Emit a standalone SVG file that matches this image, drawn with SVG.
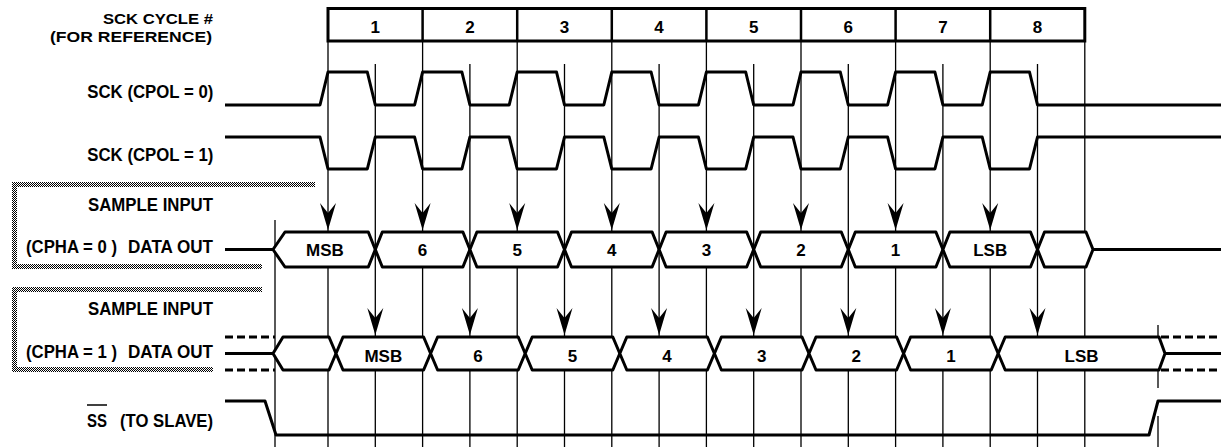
<svg xmlns="http://www.w3.org/2000/svg" xmlns:xlink="http://www.w3.org/1999/xlink" width="1221" height="447" viewBox="0 0 1221 447">
<style>
text{font-family:"Liberation Sans",Arial,sans-serif;font-weight:bold;font-size:17px;fill:#000}
.lbl{text-anchor:start;font-size:18.5px}
.top{text-anchor:start;font-size:15.5px}
.c{text-anchor:middle}
.grid{stroke:#000;stroke-width:1.3;fill:none}
.wave{stroke:#000;stroke-width:3;fill:none;stroke-linejoin:round}
.hex{stroke:#000;stroke-width:3;fill:#fff;stroke-linejoin:round}
.dash{stroke:#000;stroke-width:3;stroke-dasharray:8 4;fill:none}
.box{stroke:#000;stroke-width:3;fill:#fff}
.div{stroke:#000;stroke-width:2.5}
</style>
<defs>
<pattern id="hatch" width="2" height="2" patternUnits="userSpaceOnUse">
<rect width="2" height="2" fill="#fff"/>
<rect width="1" height="1" fill="#000"/>
<rect x="1" y="1" width="1" height="1" fill="#000"/>
</pattern>
<path id="arr" d="M0,0 L-8,-27 L0,-17 L8,-27 Z" fill="#000"/>
</defs>

<g id="hatch-boxes" fill="url(#hatch)">
<rect x="12" y="182" width="303" height="5"/>
<rect x="12" y="182" width="5" height="87"/>
<rect x="12" y="264" width="250" height="5"/>
<rect x="12" y="287" width="250" height="5"/>
<rect x="12" y="287" width="5" height="85"/>
<rect x="12" y="367" width="201" height="5"/>
</g>

<g id="connectors">
<g id="grid-lines" class="grid">
<path d="M328,41V447 M422.6,41V447 M517.2,41V447 M611.8,41V447 M706.4,41V447 M801,41V447 M895.6,41V447 M990.2,41V447 M1084.8,41V447"/>
<path d="M375.3,64V447 M469.9,64V447 M564.5,64V447 M659.1,64V447 M753.7,64V447 M848.3,64V447 M942.9,64V447 M1037.5,64V447"/>
<path d="M275,220V447 M1158,325V388 M1158,416V447"/>
</g>
<g id="sample-arrows-cpha0">
<use xlink:href="#arr" x="328" y="230"/>
<use xlink:href="#arr" x="422.6" y="230"/>
<use xlink:href="#arr" x="517.2" y="230"/>
<use xlink:href="#arr" x="611.8" y="230"/>
<use xlink:href="#arr" x="706.4" y="230"/>
<use xlink:href="#arr" x="801" y="230"/>
<use xlink:href="#arr" x="895.6" y="230"/>
<use xlink:href="#arr" x="990.2" y="230"/>
</g>
<g id="sample-arrows-cpha1">
<use xlink:href="#arr" x="375.3" y="335"/>
<use xlink:href="#arr" x="469.9" y="335"/>
<use xlink:href="#arr" x="564.5" y="335"/>
<use xlink:href="#arr" x="659.1" y="335"/>
<use xlink:href="#arr" x="753.7" y="335"/>
<use xlink:href="#arr" x="848.3" y="335"/>
<use xlink:href="#arr" x="942.9" y="335"/>
<use xlink:href="#arr" x="1037.5" y="335"/>
</g>
</g>

<g id="cycle-box">
<rect class="box" x="328" y="8.5" width="756.8" height="32.5"/>
<path class="div" d="M422.6,8.5V41 M517.2,8.5V41 M611.8,8.5V41 M706.4,8.5V41 M801,8.5V41 M895.6,8.5V41 M990.2,8.5V41"/>
<text class="c" x="375.3" y="32.5">1</text>
<text class="c" x="469.9" y="32.5">2</text>
<text class="c" x="564.5" y="32.5">3</text>
<text class="c" x="659.1" y="32.5">4</text>
<text class="c" x="753.7" y="32.5">5</text>
<text class="c" x="848.3" y="32.5">6</text>
<text class="c" x="942.9" y="32.5">7</text>
<text class="c" x="1037.5" y="32.5">8</text>
</g>

<g id="sck-cpol0">
<path class="wave" d="M225,105 L320,105 328,72 367.3,72 375.3,105 L414.6,105 422.6,72 461.9,72 469.9,105 L509.2,105 517.2,72 556.5,72 564.5,105 L603.8,105 611.8,72 651.1,72 659.1,105 L698.4,105 706.4,72 745.7,72 753.7,105 L793,105 801,72 840.3,72 848.3,105 L887.6,105 895.6,72 934.9,72 942.9,105 L982.2,105 990.2,72 1029.5,72 1037.5,105 L1221,105"/>
</g>
<g id="sck-cpol1">
<path class="wave" d="M225,137 L320,137 328,169 367.3,169 375.3,137 L414.6,137 422.6,169 461.9,169 469.9,137 L509.2,137 517.2,169 556.5,169 564.5,137 L603.8,137 611.8,169 651.1,169 659.1,137 L698.4,137 706.4,169 745.7,169 753.7,137 L793,137 801,169 840.3,169 848.3,137 L887.6,137 895.6,169 934.9,169 942.9,137 L982.2,137 990.2,169 1029.5,169 1037.5,137 L1221,137"/>
</g>

<g id="data-cpha0">
<path class="wave" d="M225,249.5H273 M1093,249.5H1221"/>
<polygon class="hex" points="273,249.5 285,232 368.3,232 375.3,249.5 368.3,267 285,267"/>
<polygon class="hex" points="375.3,249.5 382.3,232 462.9,232 469.9,249.5 462.9,267 382.3,267"/>
<polygon class="hex" points="469.9,249.5 476.9,232 557.5,232 564.5,249.5 557.5,267 476.9,267"/>
<polygon class="hex" points="564.5,249.5 571.5,232 652.1,232 659.1,249.5 652.1,267 571.5,267"/>
<polygon class="hex" points="659.1,249.5 666.1,232 746.7,232 753.7,249.5 746.7,267 666.1,267"/>
<polygon class="hex" points="753.7,249.5 760.7,232 841.3,232 848.3,249.5 841.3,267 760.7,267"/>
<polygon class="hex" points="848.3,249.5 855.3,232 935.9,232 942.9,249.5 935.9,267 855.3,267"/>
<polygon class="hex" points="942.9,249.5 949.9,232 1030.5,232 1037.5,249.5 1030.5,267 949.9,267"/>
<polygon class="hex" points="1037.5,249.5 1044.5,232 1086,232 1093,249.5 1086,267 1044.5,267"/>
<text class="c" x="325" y="256">MSB</text>
<text class="c" x="422.6" y="256">6</text>
<text class="c" x="517.2" y="256">5</text>
<text class="c" x="611.8" y="256">4</text>
<text class="c" x="706.4" y="256">3</text>
<text class="c" x="801" y="256">2</text>
<text class="c" x="895.6" y="256">1</text>
<text class="c" x="990.2" y="256">LSB</text>
</g>

<g id="data-cpha1">
<path class="dash" d="M225,337H275 M225,370H275 M1161,337H1221 M1161,370H1221"/>
<path class="wave" d="M225,353.5H273 M1165,353.5H1221"/>
<polygon class="hex" points="273,353.5 283,337 329,337 336,353.5 329,370 283,370"/>
<polygon class="hex" points="336,353.5 343,337 423.6,337 430.6,353.5 423.6,370 343,370"/>
<polygon class="hex" points="430.6,353.5 437.6,337 518.2,337 525.2,353.5 518.2,370 437.6,370"/>
<polygon class="hex" points="525.2,353.5 532.2,337 612.8,337 619.8,353.5 612.8,370 532.2,370"/>
<polygon class="hex" points="619.8,353.5 626.8,337 707.4,337 714.4,353.5 707.4,370 626.8,370"/>
<polygon class="hex" points="714.4,353.5 721.4,337 802,337 809,353.5 802,370 721.4,370"/>
<polygon class="hex" points="809,353.5 816,337 896.6,337 903.6,353.5 896.6,370 816,370"/>
<polygon class="hex" points="903.6,353.5 910.6,337 991.2,337 998.2,353.5 991.2,370 910.6,370"/>
<polygon class="hex" points="998.2,353.5 1005.2,337 1159,337 1165,353.5 1159,370 1005.2,370"/>
<text class="c" x="383.3" y="361.5">MSB</text>
<text class="c" x="477.9" y="361.5">6</text>
<text class="c" x="572.5" y="361.5">5</text>
<text class="c" x="667.1" y="361.5">4</text>
<text class="c" x="761.7" y="361.5">3</text>
<text class="c" x="856.3" y="361.5">2</text>
<text class="c" x="950.9" y="361.5">1</text>
<text class="c" x="1081.6" y="361.5">LSB</text>
</g>

<g id="ss">
<path class="wave" d="M225,401 L265,401 276,435 1149,435 1158,401 1221,401"/>
</g>

<g id="labels">
<text class="top" x="103" y="24" textLength="110" lengthAdjust="spacingAndGlyphs">SCK CYCLE #</text>
<text class="top" x="50" y="42" textLength="162" lengthAdjust="spacingAndGlyphs">(FOR REFERENCE)</text>
<text class="lbl" x="87.3" y="98" textLength="126" lengthAdjust="spacingAndGlyphs">SCK (CPOL = 0)</text>
<text class="lbl" x="87.3" y="161" textLength="126" lengthAdjust="spacingAndGlyphs">SCK (CPOL = 1)</text>
<text class="lbl" x="88" y="210.5" textLength="125" lengthAdjust="spacingAndGlyphs">SAMPLE INPUT</text>
<text class="lbl" x="26" y="252.5" textLength="91" lengthAdjust="spacingAndGlyphs">(CPHA = 0 )</text>
<text class="lbl" x="128" y="252.5" textLength="85" lengthAdjust="spacingAndGlyphs">DATA OUT</text>
<text class="lbl" x="88" y="315" textLength="125" lengthAdjust="spacingAndGlyphs">SAMPLE INPUT</text>
<text class="lbl" x="26" y="357.5" textLength="91" lengthAdjust="spacingAndGlyphs">(CPHA = 1 )</text>
<text class="lbl" x="128" y="357.5" textLength="85" lengthAdjust="spacingAndGlyphs">DATA OUT</text>
<text class="lbl" x="87" y="426.5" textLength="20" lengthAdjust="spacingAndGlyphs">SS</text>
<line x1="87" y1="405" x2="107" y2="405" stroke="#000" stroke-width="1.5"/>
<text class="lbl" x="120" y="426.5" textLength="93" lengthAdjust="spacingAndGlyphs">(TO SLAVE)</text>
</g>
</svg>
